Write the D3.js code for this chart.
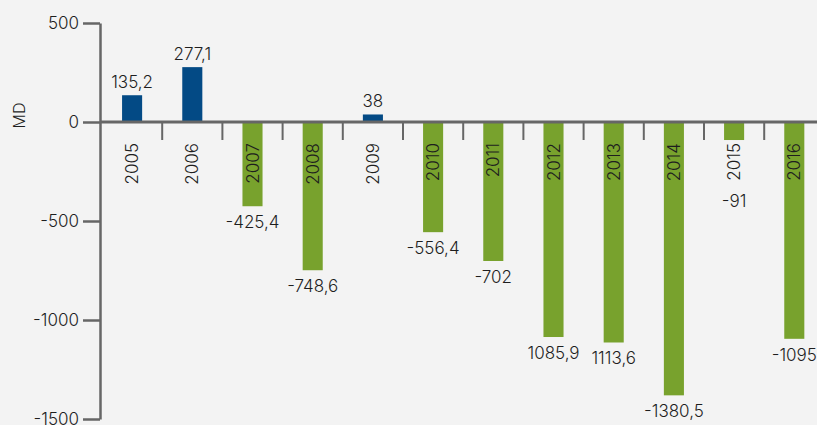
<!DOCTYPE html>
<html>
<head>
<meta charset="utf-8">
<script src="https://cdn.jsdelivr.net/npm/d3@7"></script>
<style>
  html, body { margin: 0; padding: 0; background: #f3f3f3; }
  svg { display: block; font-family: Inter, "DejaVu Sans", sans-serif; font-weight: 300; }
</style>
</head>
<body>
<script>
// Annual balance, MD
const years = ["2005", "2006", "2007", "2008", "2009", "2010", "2011", "2012", "2013", "2014", "2015", "2016"];
const values = [135.2, 277.1, -425.4, -748.6, 38, -556.4, -702, -1085.9, -1113.6, -1380.5, -91, -1095];
const valueLabels = ["135,2", "277,1", "-425,4", "-748,6", "38", "-556,4", "-702", "1085,9", "1113,6", "-1380,5", "-91", "-1095"];
const yTicks = [500, 0, -500, -1000, -1500];
const unitLabel = "MD";

const W = 817, H = 425;
const colorPos = "#034a85";
const colorNeg = "#78a22d";
const axisColor = "#666666";
const textColor = "#1e1e1e";
const fontSize = 17;

const svg = d3.select("body").append("svg")
  .attr("width", W).attr("height", H);

svg.append("rect").attr("width", W).attr("height", H).attr("fill", "#f3f3f3");

const y = d3.scaleLinear().domain([-1500, 500]).range([419, 23]);
const x = d3.scaleBand().domain(years).range([102, 824.4])
  .paddingInner(2 / 3).paddingOuter(1 / 3);

const y0 = y(0);

// bars
svg.append("g").selectAll("rect").data(years).join("rect")
  .attr("x", d => x(d))
  .attr("width", x.bandwidth())
  .attr("y", (d, i) => Math.min(y(values[i]), y0))
  .attr("height", (d, i) => Math.abs(y(values[i]) - y0))
  .attr("fill", (d, i) => values[i] >= 0 ? colorPos : colorNeg);

// y axis (plain hyphen for negatives)
const yAxis = svg.append("g")
  .attr("transform", "translate(100,0)")
  .call(d3.axisLeft(y).tickValues(yTicks).tickSize(17).tickSizeOuter(0).tickPadding(4)
    .tickFormat(d => String(d)));
yAxis.select(".domain").attr("stroke", axisColor).attr("stroke-width", 2.5);
yAxis.selectAll(".tick line").attr("stroke", axisColor).attr("stroke-width", 2.5);
yAxis.selectAll(".tick text")
  .attr("fill", textColor)
  .style("font-size", fontSize + "px")
  .style("font-family", "Inter, 'DejaVu Sans', sans-serif")
  .style("font-weight", 300);

// x axis baseline and separators between categories
const gx = svg.append("g");
gx.append("line")
  .attr("x1", 100).attr("x2", W)
  .attr("y1", y0).attr("y2", y0)
  .attr("stroke", axisColor).attr("stroke-width", 3);
const gap = x.step() * x.paddingInner() / 2;
gx.selectAll("line.sep").data(years.slice(1)).join("line")
  .attr("class", "sep")
  .attr("x1", d => x(d) - gap).attr("x2", d => x(d) - gap)
  .attr("y1", y0).attr("y2", y0 + 18)
  .attr("stroke", axisColor).attr("stroke-width", 2);

// category labels, rotated
const yearEnd = 143;
svg.append("g").selectAll("text").data(years).join("text")
  .attr("transform", d => `translate(${x(d) + x.bandwidth() / 2},${yearEnd}) rotate(-90)`)
  .attr("text-anchor", "end")
  .attr("dy", "0.36em")
  .attr("fill", textColor)
  .style("font-size", fontSize + "px")
  .text(d => d);

// value labels
const yearLabelBottom = 185;
svg.append("g").selectAll("text").data(years).join("text")
  .attr("x", d => x(d) + x.bandwidth() / 2)
  .attr("y", (d, i) => values[i] >= 0
    ? y(values[i]) - 7
    : Math.max(y(values[i]), yearLabelBottom) + 22)
  .attr("text-anchor", "middle")
  .attr("fill", textColor)
  .style("font-size", fontSize + "px")
  .text((d, i) => valueLabels[i]);

// unit label
svg.append("text")
  .attr("transform", "translate(19.5,115.5) rotate(-90)")
  .attr("text-anchor", "middle")
  .attr("dy", "0.36em")
  .attr("fill", textColor)
  .style("font-size", "16px")
  .text(unitLabel);
</script>
</body>
</html>
